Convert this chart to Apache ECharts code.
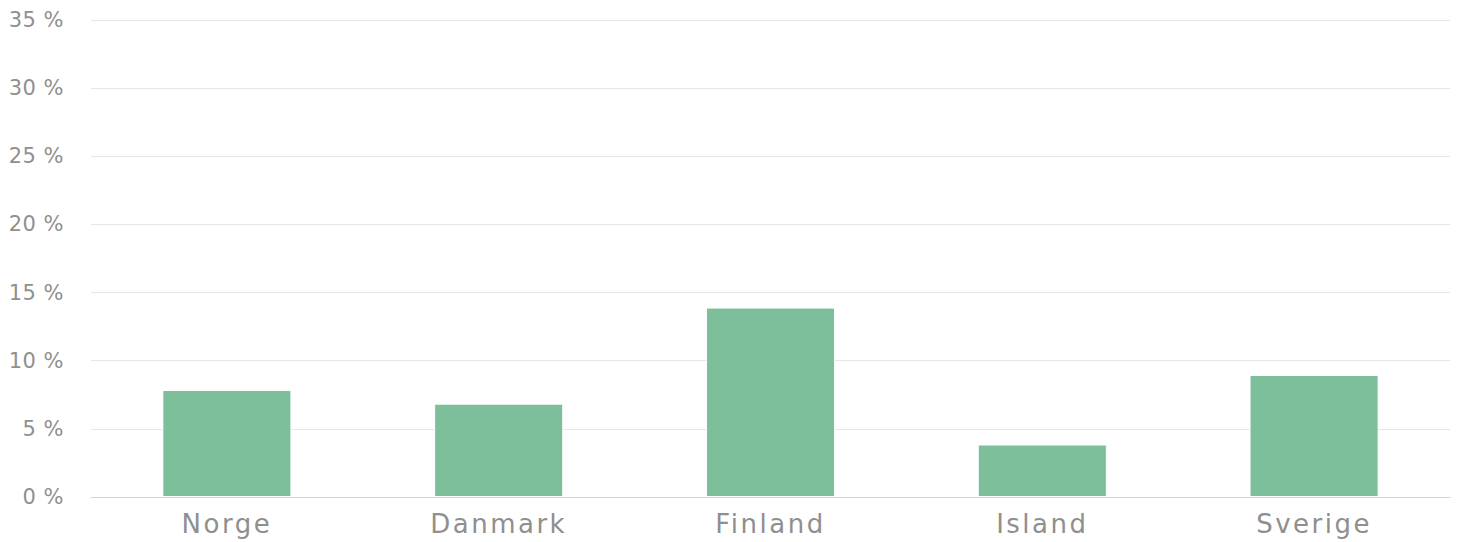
<!DOCTYPE html>
<html>
<head>
<meta charset="utf-8">
<script src="https://cdn.jsdelivr.net/npm/echarts@6/dist/echarts.min.js"></script>
<style>
  html, body { margin: 0; padding: 0; background: #fff; }
  #main { width: 1460px; height: 542px; }
  /* the source labels are tracked out a little */
  #main text { letter-spacing: 0.5px; }
</style>
</head>
<body>
<div id="main"></div>
<script>
// data
const countries = ['Norge', 'Danmark', 'Finland', 'Island', 'Sverige'];
const shares = [7.85, 6.85, 13.9, 3.85, 8.95];
const yTicks = [0, 5, 10, 15, 20, 25, 30, 35];

const chart = echarts.init(document.getElementById('main'), null, { renderer: 'svg' });

const option = {
  animation: false,
  grid: {
    left: 91,
    right: 10,
    top: 20,
    bottom: 45
  },
  xAxis: {
    type: 'category',
    data: countries,
    axisLine: { lineStyle: { color: '#ccd6eb', width: 1 } },
    axisTick: { show: false },
    axisLabel: {
      color: '#8f8f8f',
      fontFamily: 'DejaVu Sans',
      fontSize: 26,
      margin: 14
    }
  },
  yAxis: {
    type: 'value',
    min: yTicks[0],
    max: yTicks[yTicks.length - 1],
    interval: 5,
    axisLine: { show: false },
    axisTick: { show: false },
    splitLine: { lineStyle: { color: '#e6e6e6', width: 1 } },
    axisLabel: {
      color: '#8f8f8f',
      fontFamily: 'DejaVu Sans',
      fontSize: 21,
      margin: 27,
      padding: [2, 0, 0, 0],
      formatter: '{value} %'
    }
  },
  series: [
    {
      type: 'bar',
      data: shares,
      barWidth: '47.5%',
      itemStyle: {
        color: '#7dbe9b',
        borderColor: '#ffffff',
        borderWidth: 1
      }
    }
  ]
};

chart.setOption(option);

// x labels are tracked wider than the y labels
document.querySelectorAll('#main text').forEach(function (t) {
  if (countries.indexOf(t.textContent) >= 0) {
    t.style.letterSpacing = '2.5px';
  }
});
</script>
</body>
</html>
